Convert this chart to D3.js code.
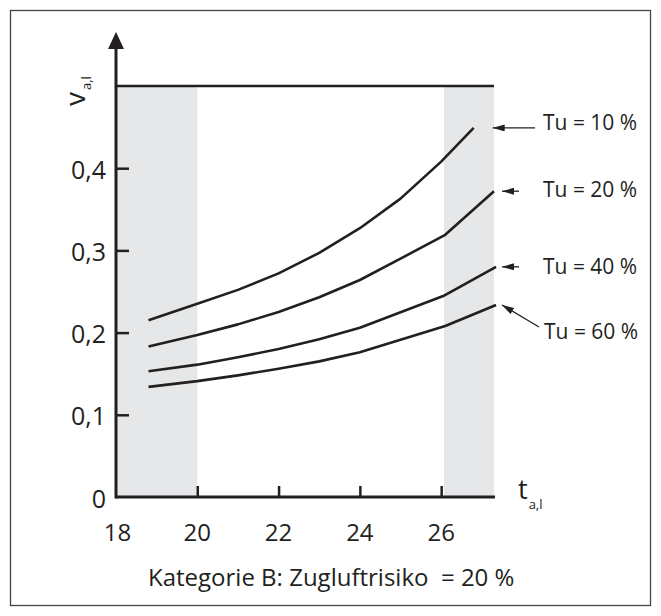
<!DOCTYPE html>
<html>
<head>
<meta charset="utf-8">
<script src="https://cdn.jsdelivr.net/npm/d3@7"></script>
<style>
  html, body { margin: 0; padding: 0; background: #fff; }
  svg { display: block; font-family: "Open Sans", "Noto Sans", sans-serif; }
</style>
</head>
<body>
<svg id="chart" width="661" height="616"></svg>
<script>
// ---- data ----
const seriesNames = ["Tu = 10 %", "Tu = 20 %", "Tu = 40 %", "Tu = 60 %"];
const temps10 = [18.8, 20, 21, 22, 23, 24, 25, 26, 26.8];
const vel10   = [0.215, 0.235, 0.252, 0.272, 0.297, 0.327, 0.363, 0.408, 0.449];
const temps20 = [18.8, 20, 21, 22, 23, 24, 25, 26.1, 27.3];
const vel20   = [0.183, 0.197, 0.210, 0.225, 0.243, 0.264, 0.290, 0.319, 0.372];
const temps40 = [18.8, 20, 21, 22, 23, 24, 26.05, 27.35];
const vel40   = [0.153, 0.161, 0.170, 0.180, 0.192, 0.206, 0.2445, 0.280];
const temps60 = [18.8, 20, 21, 22, 23, 24, 26.1, 27.35];
const vel60   = [0.134, 0.141, 0.148, 0.156, 0.165, 0.176, 0.208, 0.2336];
const xTicks = [18, 20, 22, 24, 26];
const yTicks = [0, 0.1, 0.2, 0.3, 0.4];
const yTickLabels = ["0", "0,1", "0,2", "0,3", "0,4"];
const vMax = 0.5;
const tMin = 18, tMax = 27.3;
const bands = [[18, 20], [26.07, 27.3]];
const title = "Kategorie B: Zugluftrisiko\u00a0\u00a0= 20 %";

// ---- layout ----
const ink = "#231f20";
const svg = d3.select("#chart");
const x = d3.scaleLinear().domain([tMin, tMax]).range([116, 494]);
const y = d3.scaleLinear().domain([0, vMax]).range([497, 86]);

// frame
svg.append("rect").attr("x", 10.5).attr("y", 10.5).attr("width", 640).attr("height", 595)
  .attr("fill", "none").attr("stroke", "#444").attr("stroke-width", 1.3);

// grey bands
svg.selectAll("rect.band").data(bands).join("rect").attr("class", "band")
  .attr("x", d => x(d[0])).attr("width", d => x(d[1]) - x(d[0]))
  .attr("y", y(vMax)).attr("height", y(0) - y(vMax))
  .attr("fill", "#e6e7e8");

// top limit line
svg.append("line").attr("x1", x(tMin)).attr("x2", x(tMax)).attr("y1", y(vMax)).attr("y2", y(vMax))
  .attr("stroke", ink).attr("stroke-width", 2.6);

// curves
const series = [
  { name: seriesNames[0], t: temps10, v: vel10 },
  { name: seriesNames[1], t: temps20, v: vel20 },
  { name: seriesNames[2], t: temps40, v: vel40 },
  { name: seriesNames[3], t: temps60, v: vel60 }
];
const line = d3.line().x(d => x(d[0])).y(d => y(d[1]));
svg.selectAll("path.curve").data(series).join("path").attr("class", "curve")
  .attr("d", s => line(s.t.map((t, i) => [t, s.v[i]])))
  .attr("fill", "none").attr("stroke", ink).attr("stroke-width", 2.6).attr("stroke-linejoin", "round");

// axes
const xAxis = d3.axisBottom(x).tickValues(xTicks.slice(1)).tickSize(-11).tickFormat("");
const gx = svg.append("g").attr("transform", `translate(0,${y(0)})`).call(xAxis);
gx.select(".domain").remove();
gx.selectAll(".tick line").attr("stroke", ink).attr("stroke-width", 2.5);

const yAxis = d3.axisLeft(y).tickValues(yTicks.slice(1)).tickSize(-13).tickFormat("");
const gy = svg.append("g").attr("transform", `translate(${x(tMin)},0)`).call(yAxis);
gy.select(".domain").remove();
gy.selectAll(".tick line").attr("stroke", ink).attr("stroke-width", 2.5);

// axis lines
svg.append("line").attr("x1", x(tMin)).attr("x2", x(tMax) + 1).attr("y1", y(0)).attr("y2", y(0))
  .attr("stroke", ink).attr("stroke-width", 3);
svg.append("line").attr("x1", x(tMin)).attr("x2", x(tMin)).attr("y1", y(0) + 1.5).attr("y2", 46)
  .attr("stroke", ink).attr("stroke-width", 3);
svg.append("path").attr("d", `M${x(tMin)},32 L${x(tMin) + 8},49 L${x(tMin) - 8},49 Z`).attr("fill", ink);

// tick labels
svg.selectAll("text.xl").data(xTicks).join("text").attr("class", "xl")
  .attr("x", d => x(d) + (d === tMin ? 1.5 : 0)).attr("y", 541)
  .attr("text-anchor", "middle").attr("font-size", 24).attr("fill", ink).text(d => d);
svg.selectAll("text.yl").data(yTicks).join("text").attr("class", "yl")
  .attr("x", 106).attr("y", d => y(d) + 1.5).attr("dy", "0.36em")
  .attr("text-anchor", "end").attr("font-size", 25).attr("fill", ink)
  .text((d, i) => yTickLabels[i]);

// axis titles
const tl = svg.append("text").attr("x", 518).attr("y", 499).attr("fill", ink).attr("font-size", 27);
tl.append("tspan").text("t");
tl.append("tspan").attr("dy", 10).attr("dx", 1).attr("font-size", 13).text("a,l");

const vl = svg.append("text").attr("transform", "translate(85,106) rotate(-90)")
  .attr("fill", ink).attr("font-size", 28);
vl.append("tspan").text("v");
vl.append("tspan").attr("dy", 6).attr("dx", 2).attr("font-size", 13).text("a,l");

// series labels with arrows
const defs = svg.append("defs");
defs.append("marker").attr("id", "ah").attr("viewBox", "0 0 12 7")
  .attr("refX", 12).attr("refY", 3.5).attr("markerWidth", 12).attr("markerHeight", 7)
  .attr("markerUnits", "userSpaceOnUse").attr("orient", "auto")
  .append("path").attr("d", "M0,0 L12,3.5 L0,7 Z").attr("fill", ink);

const labelLayout = [
  { tipDx: 19, tail: [535, null], tx: 543, ty: 130 },
  { tipDx: 8,  tail: [519, null], tx: 543, ty: 197 },
  { tipDx: 6,  tail: [519, null], tx: 543, ty: 274 },
  { tipDx: 6,  tail: [539, 327], tx: 544, ty: 339 }
];
series.forEach((s, i) => {
  const L = labelLayout[i];
  const ex = x(s.t[s.t.length - 1]), ey = y(s.v[s.v.length - 1]);
  const tipX = ex + L.tipDx, tipY = ey;
  const tailY = L.tail[1] === null ? tipY : L.tail[1];
  svg.append("line").attr("x1", L.tail[0]).attr("y1", tailY).attr("x2", tipX).attr("y2", tipY)
    .attr("stroke", ink).attr("stroke-width", 1.3).attr("marker-end", "url(#ah)");
  svg.append("text").attr("x", L.tx).attr("y", L.ty).attr("font-size", 21).attr("fill", ink).text(s.name);
});

// bottom title
svg.append("text").attr("x", 148).attr("y", 586).attr("font-size", 24).attr("fill", ink).text(title);
</script>
</body>
</html>
